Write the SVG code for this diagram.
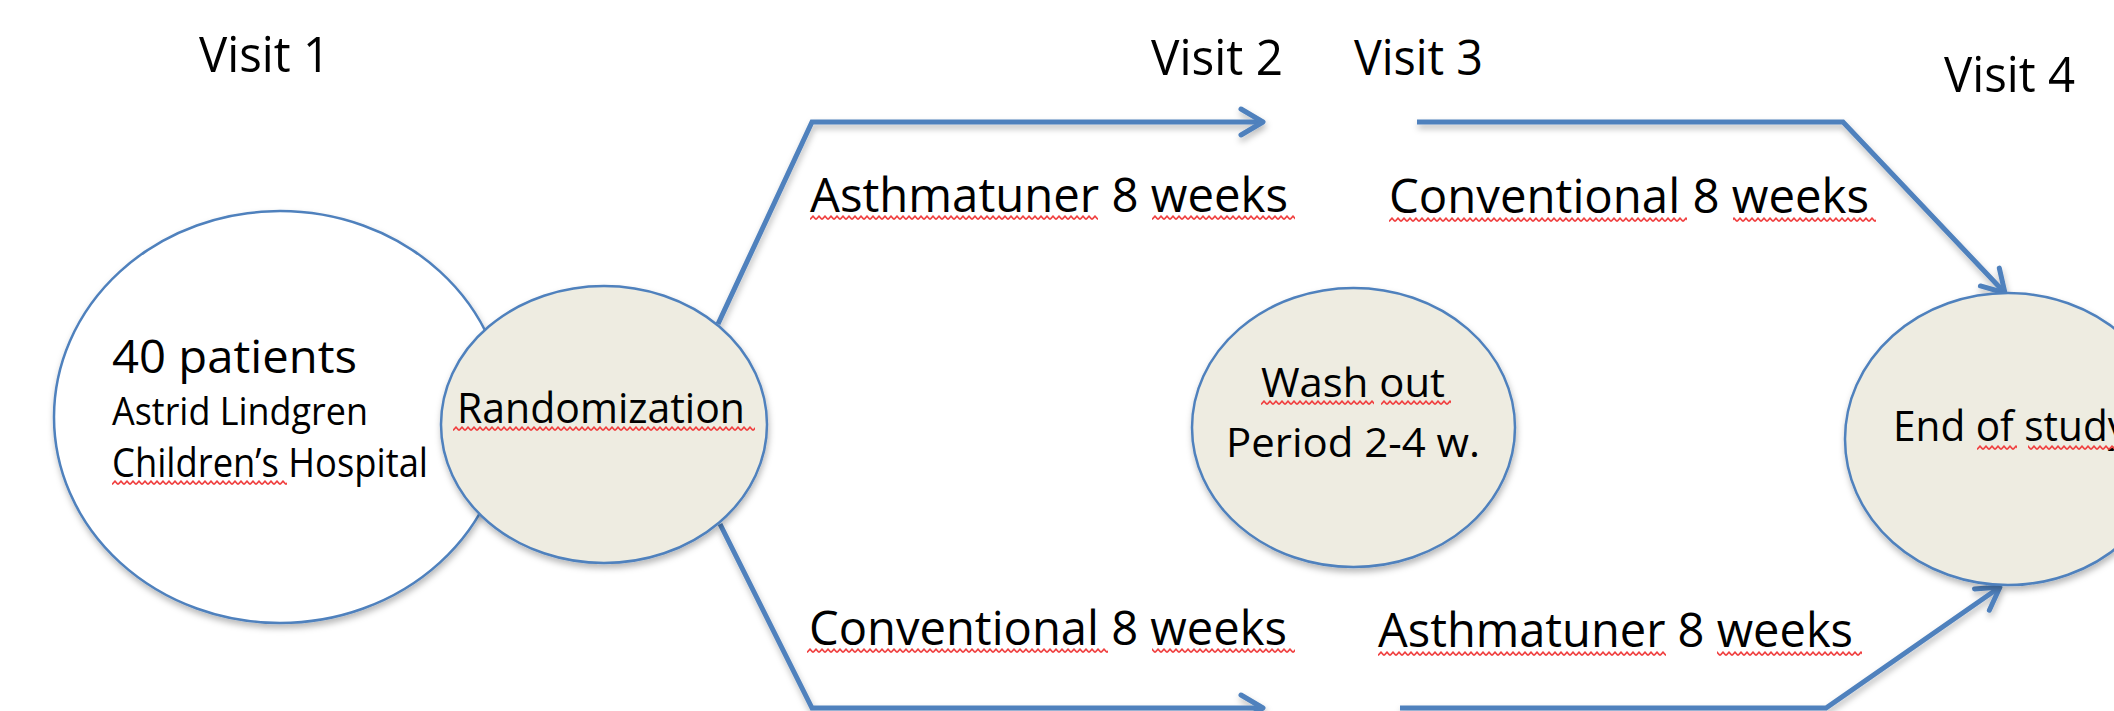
<svg xmlns="http://www.w3.org/2000/svg" width="2114" height="711" viewBox="0 0 2114 711">
<defs>
<style>
.t{font-family:"Open Sans","Liberation Sans",sans-serif;fill:#000;}
.node{stroke:#4F81BD;stroke-width:2.5;filter:url(#sh);}
.beige{fill:#EEECE1;}
.white{fill:#FFFFFF;}
.conn{fill:none;stroke:#4F81BD;stroke-width:5;stroke-linejoin:miter;marker-end:url(#arr);filter:url(#sh);}
.sq{fill:url(#zig);}
</style>
<filter id="sh" x="-10%" y="-10%" width="120%" height="130%">
<feDropShadow dx="1" dy="4" stdDeviation="3" flood-color="#000" flood-opacity="0.28"/>
</filter>
<marker id="arr" markerUnits="userSpaceOnUse" viewBox="-26 -16 30 32" refX="0" refY="0" markerWidth="30" markerHeight="32" orient="auto" overflow="visible">
<path d="M-22,-13 L0,0 L-22,13" fill="none" stroke="#4F81BD" stroke-width="5" stroke-linecap="round" stroke-linejoin="round"/>
</marker>
<pattern id="zig" patternUnits="userSpaceOnUse" width="6" height="6">
<path d="M0,4.5 L3,1.2 L6,4.5" fill="none" stroke="#F04040" stroke-width="1.7"/>
</pattern>
</defs>
<rect width="2114" height="711" fill="#FFFFFF"/>

<g id="visit-labels">
<text class="t" x="199" y="72" font-size="49" textLength="131" lengthAdjust="spacingAndGlyphs">Visit 1</text>
<text class="t" x="1151" y="75" font-size="49" textLength="132" lengthAdjust="spacingAndGlyphs">Visit 2</text>
<text class="t" x="1354" y="75" font-size="49" textLength="129" lengthAdjust="spacingAndGlyphs">Visit 3</text>
<text class="t" x="1944" y="92" font-size="49" textLength="131" lengthAdjust="spacingAndGlyphs">Visit 4</text>
</g>

<g id="connectors">
<path class="conn" d="M718,324 L812,122 L1263,122"/>
<path class="conn" d="M1417,122 L1843,122 L2005,293"/>
<path class="conn" d="M720,524 L812,708 L1263,708"/>
<path class="conn" d="M1400,708 L1826,708 L2000,587"/>
</g>

<g id="patients">
<ellipse class="node white" cx="280" cy="417" rx="226" ry="206"/>
<text class="t" x="112" y="373" font-size="46" textLength="245" lengthAdjust="spacingAndGlyphs">40 patients</text>
<text class="t" x="112" y="425" font-size="39" textLength="256" lengthAdjust="spacingAndGlyphs">Astrid Lindgren</text>
<text class="t" x="112" y="477" font-size="40" textLength="316" lengthAdjust="spacingAndGlyphs">Children’s Hospital</text>
<g transform="translate(112,480)"><rect class="sq" width="175" height="6"/></g>
</g>

<g id="randomization">
<ellipse class="node beige" cx="604" cy="424.5" rx="163" ry="138.5"/>
<text class="t" x="457" y="423" font-size="42" textLength="288" lengthAdjust="spacingAndGlyphs">Randomization</text>
<g transform="translate(453,426)"><rect class="sq" width="302" height="6"/></g>
</g>

<g id="washout">
<ellipse class="node beige" cx="1353.5" cy="427.5" rx="161.5" ry="139.5"/>
<text class="t" x="1261" y="397" font-size="41" textLength="184" lengthAdjust="spacingAndGlyphs">Wash out</text>
<text class="t" x="1226" y="457" font-size="41" textLength="254" lengthAdjust="spacingAndGlyphs">Period 2-4 w.</text>
<g transform="translate(1261,400)"><rect class="sq" width="113" height="6"/><rect class="sq" x="120" width="70" height="6"/></g>
</g>

<g id="end-of-study">
<ellipse class="node beige" cx="2008" cy="439" rx="163" ry="146"/>
<text class="t" x="1893" y="441" font-size="42" textLength="235" lengthAdjust="spacingAndGlyphs">End of study</text>
<g transform="translate(1977,445)"><rect class="sq" width="40" height="6"/><rect class="sq" x="51" width="90" height="6"/></g>
</g>

<g id="edge-labels">
<text class="t" x="810" y="212" font-size="48" textLength="478" lengthAdjust="spacingAndGlyphs">Asthmatuner 8 weeks</text>
<g transform="translate(810,215)"><rect class="sq" width="288" height="6"/><rect class="sq" x="342" width="143" height="6"/></g>
<text class="t" x="1389" y="213" font-size="48" textLength="480" lengthAdjust="spacingAndGlyphs">Conventional 8 weeks</text>
<g transform="translate(1389,217)"><rect class="sq" width="298" height="6"/><rect class="sq" x="344" width="143" height="6"/></g>
<text class="t" x="809" y="645" font-size="48" textLength="478" lengthAdjust="spacingAndGlyphs">Conventional 8 weeks</text>
<g transform="translate(807,648)"><rect class="sq" width="301" height="6"/><rect class="sq" x="345" width="143" height="6"/></g>
<text class="t" x="1378" y="647" font-size="48" textLength="475" lengthAdjust="spacingAndGlyphs">Asthmatuner 8 weeks</text>
<g transform="translate(1378,651)"><rect class="sq" width="288" height="6"/><rect class="sq" x="339" width="145" height="6"/></g>
</g>
</svg>
